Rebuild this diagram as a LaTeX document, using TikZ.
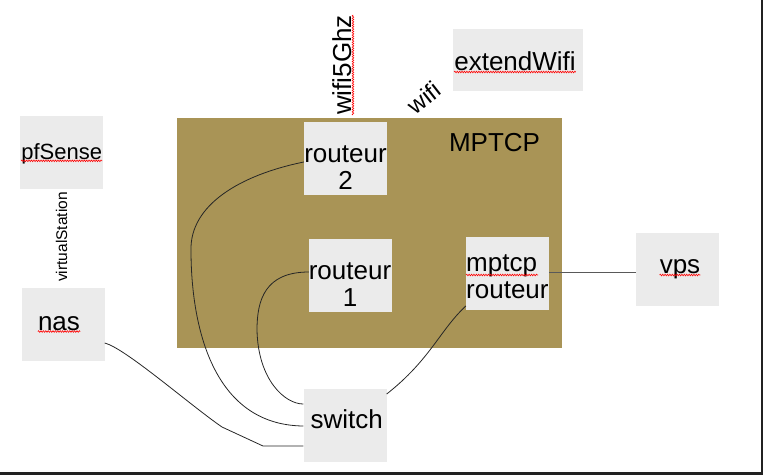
\documentclass[tikz,border=0pt]{standalone}
\usepackage{fontspec}
\setmainfont{Liberation Sans}
\usetikzlibrary{calc,decorations.pathmorphing}
\definecolor{zonebrown}{RGB}{169,148,86}
\definecolor{boxgrey}{RGB}{235,235,235}
\definecolor{framedark}{RGB}{33,33,33}

\begin{document}
\begin{tikzpicture}[x=1pt,y=1pt,yscale=-1,
  box/.style={fill=boxgrey,inner sep=0,minimum width=83,minimum height=73},
  big/.style={font=\fontsize{26}{27}\selectfont,inner sep=0},
  mid/.style={font=\fontsize{22}{24}\selectfont,inner sep=0},
  wire/.style={draw=black!85,line width=0.8},
  typo/.style={draw=red,line width=0.6,decorate,decoration={snake,amplitude=0.8,segment length=2.4}}]

\useasboundingbox (0,0) rectangle (763,475);
\fill[framedark] (761,0) rectangle (763,475);
\fill[framedark] (0,472) rectangle (763,475);

\node[fill=zonebrown,inner sep=0,minimum width=385,minimum height=230] (zone) at (369.5,233) {};
\node[box] (r2) at (345.5,158.5) {};
\node[box] (r1) at (350.5,275.5) {};
\node[box] (mr) at (507.5,273.5) {};
\node[box] (vps) at (677.5,269.5) {};
\node[box] (sw) at (345,425) {};
\node[box] (nas) at (63,324.5) {};
\node[box] (pf) at (61,152.5) {};
\node[box,minimum width=130,minimum height=62] (ext) at (518,60) {};

\draw[wire] (r2.west |- 0,162) .. controls (240,175) and (190,205) .. (191,250)
  .. controls (191,325) and (212,425) .. (sw.west |- 0,426);
\draw[wire] (r1.west |- 0,272) .. controls (265,272) and (257,300) .. (257,330)
  .. controls (258,380) and (285,404) .. (sw.west |- 0,404);
\draw[wire] (nas.east |- 0,343) .. controls (125,348) and (190,405) .. (222,427)
  -- (263,446) -- (sw.west |- 0,446);
\draw[wire] (mr.west |- 0,306) .. controls (440,330) and (430,360) .. (sw.east |- 0,394);
\draw[wire,draw=black!65] (mr.east |- 0,272) -- (vps.west |- 0,272);

\node[big,anchor=base] (zonet) at (494.5,151) {MPTCP};
\node[big,anchor=base,align=center] (r2t) at (345.5,189) {routeur\\2};
\node[big,anchor=base,align=center] (r1t) at (350,306) {routeur\\1};
\node[big,anchor=base west,align=left] (mrt) at (466,298) {mptcp\\routeur};
\node[big,anchor=base] (vpst) at (680,273) {vps};
\node[big,anchor=base] (swt) at (346.7,428) {switch};
\node[big,anchor=base] (nast) at (59,330) {nas};
\node[mid,anchor=base] (pft) at (61.7,159.3) {pfSense};
\node[big,anchor=base] (extt) at (515,70) {extendWifi};
\node[big,anchor=base,rotate=90] (w5t) at (351,65) {wifi5Ghz};
\node[font=\fontsize{24}{26}\selectfont,inner sep=0,rotate=38] (wifit) at (424,97.5) {wifi};
\node[font=\fontsize{15.5}{17}\selectfont,inner sep=0,anchor=base,rotate=90] (vst) at (67,237) {virtualStation};

\draw[typo] ($(pft.base west)+(0,1.5)$) -- ($(pft.base east)+(0,1.5)$);
\draw[typo] ($(nast.base west)+(0,1.5)$) -- ($(nast.base east)+(0,1.5)$);
\draw[typo] ($(vpst.base west)+(0,2)$) -- ($(vpst.base east)+(0,2)$);
\draw[typo] ($(extt.base west)+(0,2)$) -- ($(extt.base east)+(0,2)$);
\draw[typo] ($(mrt.base west)+(0,-23)$) -- ++(72,0);
\draw[typo] ($(w5t.base west)+(2,0)$) -- ($(w5t.base east)+(2,0)$);

\end{tikzpicture}
\end{document}
